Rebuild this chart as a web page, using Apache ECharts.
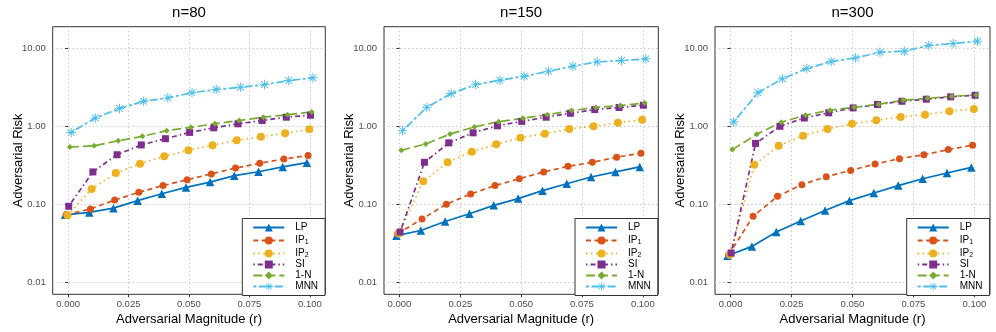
<!DOCTYPE html>
<html><head><meta charset="utf-8">
<script src="https://cdn.jsdelivr.net/npm/echarts@6/dist/echarts.min.js"></script>
<style>html,body{margin:0;padding:0;background:#fff}#c{width:996px;height:332px}</style>
</head><body><div id="c"></div>
<script>
// ---- data ----
const xValues = [0, 0.01, 0.02, 0.03, 0.04, 0.05, 0.06, 0.07, 0.08, 0.09, 0.1];
const xTicks = [0, 0.025, 0.05, 0.075, 0.1];
const yTicks = [0.01, 0.1, 1, 10];
const methods = ['LP', 'IP1', 'IP2', 'SI', '1-N', 'MNN'];
const panelTitles = ['n=80', 'n=150', 'n=300'];

const n80_LP  = [0.073, 0.0785, 0.089, 0.111, 0.136, 0.164, 0.192, 0.232, 0.26, 0.30, 0.34];
const n80_IP1 = [0.073, 0.087, 0.113, 0.142, 0.173, 0.206, 0.244, 0.29, 0.334, 0.38, 0.42];
const n80_IP2 = [0.072, 0.157, 0.25, 0.33, 0.41, 0.49, 0.57, 0.66, 0.73, 0.81, 0.91];
const n80_SI  = [0.094, 0.259, 0.43, 0.574, 0.69, 0.83, 0.95, 1.07, 1.18, 1.30, 1.38];
const n80_1N  = [0.54, 0.56, 0.65, 0.74, 0.875, 0.965, 1.07, 1.18, 1.30, 1.40, 1.52];
const n80_MNN = [0.83, 1.27, 1.68, 2.08, 2.30, 2.68, 2.94, 3.14, 3.40, 3.83, 4.15];

const n150_LP  = [0.0395, 0.046, 0.060, 0.0755, 0.0966, 0.118, 0.149, 0.183, 0.223, 0.259, 0.30];
const n150_IP1 = [0.042, 0.0645, 0.10, 0.135, 0.173, 0.212, 0.259, 0.305, 0.344, 0.40, 0.45];
const n150_IP2 = [0.042, 0.196, 0.344, 0.47, 0.585, 0.71, 0.80, 0.92, 0.995, 1.10, 1.21];
const n150_SI  = [0.044, 0.344, 0.61, 0.82, 1.01, 1.15, 1.30, 1.46, 1.63, 1.73, 1.85];
const n150_1N  = [0.49, 0.59, 0.79, 0.975, 1.14, 1.26, 1.40, 1.58, 1.73, 1.83, 1.98];
const n150_MNN = [0.875, 1.74, 2.61, 3.40, 3.87, 4.35, 5.04, 5.85, 6.65, 6.92, 7.27];

const n300_LP  = [0.0219, 0.0288, 0.044, 0.061, 0.083, 0.111, 0.139, 0.173, 0.212, 0.251, 0.296];
const n300_IP1 = [0.0225, 0.070, 0.126, 0.178, 0.225, 0.271, 0.327, 0.383, 0.43, 0.50, 0.57];
const n300_IP2 = [0.0225, 0.32, 0.56, 0.755, 0.92, 1.07, 1.19, 1.31, 1.40, 1.55, 1.66];
const n300_SI  = [0.0237, 0.60, 0.995, 1.27, 1.48, 1.71, 1.89, 2.08, 2.21, 2.37, 2.48];
const n300_1N  = [0.50, 0.785, 1.12, 1.38, 1.60, 1.74, 1.91, 2.14, 2.27, 2.41, 2.51];
const n300_MNN = [1.13, 2.67, 4.03, 5.46, 6.71, 7.48, 8.83, 9.10, 10.8, 11.4, 12.2];

const panels = [
  [n80_LP, n80_IP1, n80_IP2, n80_SI, n80_1N, n80_MNN],
  [n150_LP, n150_IP1, n150_IP2, n150_SI, n150_1N, n150_MNN],
  [n300_LP, n300_IP1, n300_IP2, n300_SI, n300_1N, n300_MNN]
];

// ---- style ----
const dodge = [-0.00125, -0.00075, -0.00025, 0.00025, 0.00075, 0.00125];
const colors = ['#0072BD', '#D95319', '#EDB120', '#7E2F8E', '#77AC30', '#4DBEEE'];
const dashes = ['solid', [5, 3.5], [1.5, 3.5], [1.5, 3, 5, 3], [9, 4], [3, 2.5, 8, 2.5]];
const asterisk = 'path://M9.1 1H10.9V19H9.1Z M1 9.1H19V10.9H1Z M4.28 3L17 15.72L15.72 17L3 4.28Z M17 4.28L4.28 17L3 15.72L15.72 3Z';
const symbols = ['triangle', 'circle', 'circle', 'rect', 'diamond', asterisk];
const symSizes = [8.5, 7, 8, 7, 6, 9.5];

const FONT = '"Liberation Sans", Arial, sans-serif';
const gridDefs = [
  {left: 52.7, top: 26.7, width: 272.6, height: 267.6},
  {left: 384, top: 26.7, width: 274.3, height: 267.6},
  {left: 715, top: 26.7, width: 275, height: 267.6}
];
const legendLeft = [242.3, 575, 906.7];

const grid = gridDefs.map(g => Object.assign({show: true, borderColor: '#333', borderWidth: 1, backgroundColor: '#fff'}, g));

const xAxis = gridDefs.map((g, i) => ({
  type: 'value', gridIndex: i, min: -0.006375, max: 0.106375,
  name: 'Adversarial Magnitude (r)', nameLocation: 'middle', nameGap: 18.5, nameMoveOverlap: false,
  nameTextStyle: {fontFamily: FONT, fontSize: 13, color: '#000'},
  axisLine: {show: false},
  axisTick: {show: true, length: 3, lineStyle: {color: '#333'}, customValues: xTicks},
  axisLabel: {customValues: xTicks, fontFamily: FONT, fontSize: 9.5, color: '#4d4d4d', margin: 5,
    formatter: v => v.toFixed(3)},
  splitLine: {show: true, lineStyle: {color: '#c8c8c8', type: [1.5, 2.5], width: 1}}
}));

const yAxis = gridDefs.map((g, i) => ({
  type: 'log', gridIndex: i, min: Math.pow(10, -2.154), max: Math.pow(10, 1.273), logBase: 10,
  name: 'Adversarial Risk', nameLocation: 'middle', nameGap: 28, nameRotate: 90, nameMoveOverlap: false,
  nameTextStyle: {fontFamily: FONT, fontSize: 13, color: '#000'},
  axisLine: {show: false},
  axisTick: {show: true, length: 3, lineStyle: {color: '#333'}, customValues: yTicks},
  axisLabel: {customValues: yTicks, fontFamily: FONT, fontSize: 9.5, color: '#4d4d4d', margin: 7,
    formatter: v => Number(v).toFixed(2)},
  splitLine: {show: true, lineStyle: {color: '#c8c8c8', type: [1.5, 2.5], width: 1}},
  minorSplitLine: {show: false}
}));

const series = [];
panels.forEach((pdata, p) => {
  pdata.forEach((vals, k) => {
    series.push({
      type: 'line', name: methods[k], xAxisIndex: p, yAxisIndex: p,
      data: vals.map((v, j) => [xValues[j] + dodge[k], v]),
      symbol: symbols[k], symbolSize: symSizes[k], showAllSymbol: true,
      color: colors[k],
      itemStyle: {color: colors[k]},
      lineStyle: {color: colors[k], width: 1.7, type: dashes[k]},
      emphasis: {disabled: true}, animation: false, clip: true
    });
  });
});

const legendFormatter = name => {
  if (name === 'IP1') return 'IP{s|1}';
  if (name === 'IP2') return 'IP{s|2}';
  return name;
};

const legend = legendLeft.map(l => ({
  data: methods, orient: 'vertical', left: l, top: 218.5,
  backgroundColor: '#fff', borderColor: '#333', borderWidth: 1,
  padding: [4, 7, 4, 10], itemWidth: 31, itemHeight: 10, itemGap: 1,
  selectedMode: false,
  formatter: legendFormatter,
  textStyle: {fontFamily: FONT, fontSize: 10, color: '#000', padding: [0, 0, 0, 6], lineHeight: 10,
    rich: {s: {fontFamily: FONT, fontSize: 7, lineHeight: 10, verticalAlign: 'bottom', padding: [5, 0, 0, 0]}}}
}));

const title = panelTitles.map((t, i) => ({
  text: t, left: gridDefs[i].left + gridDefs[i].width / 2, top: 5, textAlign: 'center', padding: 0,
  textStyle: {fontFamily: FONT, fontSize: 15, fontWeight: 'normal', color: '#000'}
}));

const chart = echarts.init(document.getElementById('c'), null, {renderer: 'canvas'});
chart.setOption({
  animation: false, backgroundColor: '#fff',
  title, grid, xAxis, yAxis, legend, series
});
</script></body></html>
